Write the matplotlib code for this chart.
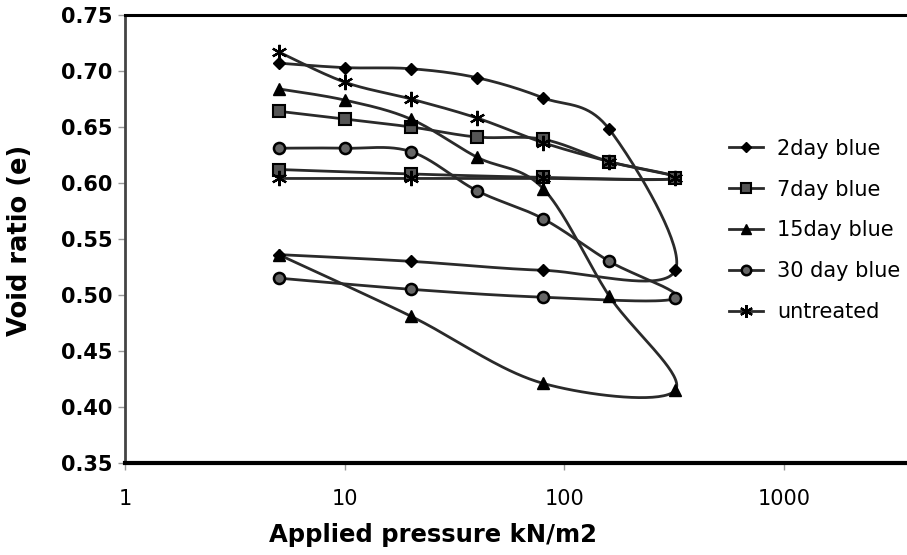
import numpy as np
import matplotlib
matplotlib.use('Agg')
import matplotlib.pyplot as plt
from matplotlib.lines import Line2D
from matplotlib.ticker import FixedLocator, FixedFormatter

# loading 5 -> 320, then unloading back down to 5
p_load = [5, 10, 20, 40, 80, 160, 320]
p_unload = [80, 20, 5]

e_2day_load = [0.707, 0.703, 0.702, 0.694, 0.676, 0.648, 0.522]
e_2day_unload = [0.522, 0.530, 0.536]

e_7day_load = [0.664, 0.657, 0.650, 0.641, 0.639, 0.619, 0.604]
e_7day_unload = [0.605, 0.608, 0.612]

e_15day_load = [0.684, 0.674, 0.657, 0.623, 0.595, 0.499, 0.415]
e_15day_unload = [0.421, 0.481, 0.536]

e_30day_load = [0.631, 0.631, 0.628, 0.593, 0.568, 0.530, 0.497]
e_30day_unload = [0.498, 0.505, 0.515]

e_untr_load = [0.717, 0.690, 0.675, 0.658, 0.636, 0.619, 0.604]
e_untr_unload = [0.604, 0.604, 0.604]

labels = ['2day blue', '7day blue', '15day blue', '30 day blue', 'untreated']


def smooth(xs, ys, n=40):
    # Catmull-Rom style smoothing (like spreadsheet "smoothed line") in log-x space
    px = np.log10(np.asarray(xs, float))
    py = np.asarray(ys, float)
    P = np.column_stack([px, py])
    P = np.vstack([P[0], P, P[-1]])
    out = []
    t = np.linspace(0, 1, n)[:, None]
    for i in range(1, len(P) - 2):
        p0, p1, p2, p3 = P[i - 1], P[i], P[i + 1], P[i + 2]
        c1 = p1 + (p2 - p0) / 6.0
        c2 = p2 - (p3 - p1) / 6.0
        seg = ((1 - t) ** 3) * p1 + 3 * ((1 - t) ** 2) * t * c1 + 3 * (1 - t) * t ** 2 * c2 + t ** 3 * p2
        out.append(seg if i == 1 else seg[1:])
    out = np.vstack(out)
    return 10 ** out[:, 0], out[:, 1]


series = [
    (e_2day_load, e_2day_unload, dict(marker='D', ms=6, mfc='black', mec='black')),
    (e_7day_load, e_7day_unload, dict(marker='s', ms=8, mfc='#555555', mec='black', mew=1.5)),
    (e_15day_load, e_15day_unload, dict(marker='^', ms=8, mfc='black', mec='black')),
    (e_30day_load, e_30day_unload, dict(marker='o', ms=8, mfc='#666666', mec='black', mew=1.8)),
    (e_untr_load, e_untr_unload, dict(marker=(6, 2, 0), ms=11, mfc='black', mec='black', mew=1.6)),
]

fig = plt.figure(figsize=(9.07, 5.55), dpi=100)
ax = fig.add_axes([0.138, 0.166, 0.862, 0.807])

handles = []
for (el, eu, mk), lab in zip(series, labels):
    xs = p_load + p_unload
    ys = el + eu
    sx, sy = smooth(xs, ys)
    ax.plot(sx, sy, color='#2a2a2a', lw=2.0, zorder=2)
    ax.plot(xs, ys, ls='none', zorder=3, **mk)
    handles.append(Line2D([], [], color='#2a2a2a', lw=2.0, **mk))

ax.set_xscale('log')
ax.set_xlim(1, 10 ** 3.56)
ax.set_ylim(0.35, 0.75)

ax.xaxis.set_major_locator(FixedLocator([1, 10, 100, 1000]))
ax.xaxis.set_major_formatter(FixedFormatter(['1', '10', '100', '1000']))
ax.xaxis.set_minor_locator(FixedLocator([]))
ax.set_yticks(np.arange(0.35, 0.751, 0.05))
ax.set_yticklabels(['%.2f' % v for v in np.arange(0.35, 0.751, 0.05)])

ax.tick_params(axis='y', labelsize=15, length=5, width=1, color='#999999', pad=4)
ax.tick_params(axis='x', labelsize=15, length=5, width=1, color='#999999', pad=14)
for lbl in ax.get_yticklabels():
    lbl.set_fontweight('bold')

ax.spines['right'].set_visible(False)
ax.spines['top'].set_linewidth(2.2)
ax.spines['bottom'].set_linewidth(3)
ax.spines['left'].set_linewidth(2)
ax.spines['left'].set_color('#444444')

ax.set_xlabel('Applied pressure kN/m2', fontsize=17.5, fontweight='bold')
ax.xaxis.set_label_coords(0.394, -0.135)
ax.set_ylabel('Void ratio (e)', fontsize=18.5, fontweight='bold')
ax.yaxis.set_label_coords(-0.118, 0.496)

fig.legend(handles, labels, loc='upper left', bbox_to_anchor=(0.795, 0.765),
           frameon=False, fontsize=15, handlelength=1.6, handletextpad=0.7,
           labelspacing=1.0, borderaxespad=0, markerscale=0.85)

fig.savefig('out.png', dpi=100)
